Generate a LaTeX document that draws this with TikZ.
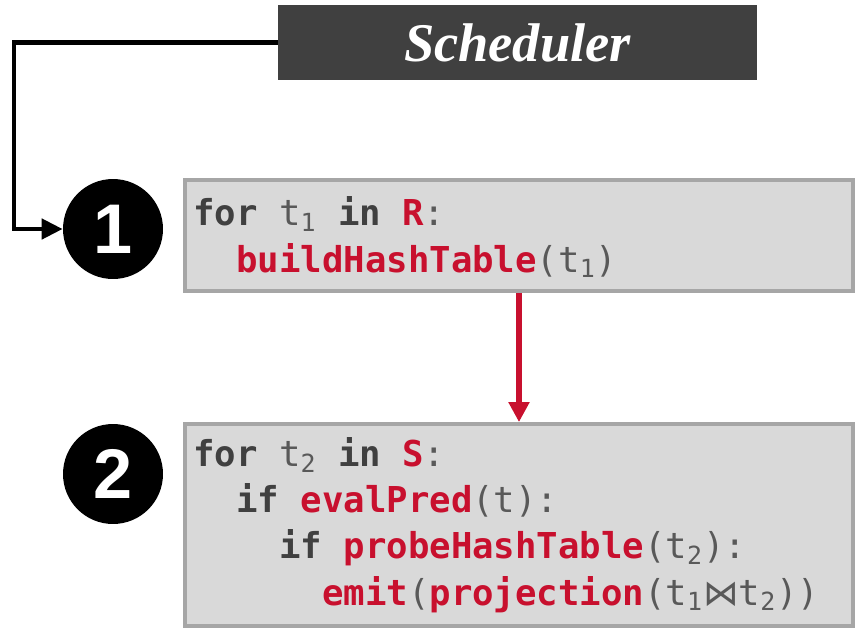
\documentclass[tikz,border=0pt]{standalone}
\usepackage{fontspec}
\usetikzlibrary{arrows.meta}
\newfontfamily\codefont{DejaVu Sans Mono}
\newfontfamily\symfont{DejaVu Sans}
\newfontfamily\titlefont{Liberation Serif}
\newfontfamily\numfont{Liberation Sans}
\definecolor{codered}{HTML}{C8102E}
\definecolor{codegray}{HTML}{595959}
\definecolor{boxgray}{HTML}{D9D9D9}
\definecolor{linegray}{HTML}{A6A6A6}
\definecolor{darkbar}{HTML}{404040}
\newcommand{\kw}[1]{\textbf{\color{darkbar}#1}}
\newcommand{\fn}[1]{\textbf{\color{codered}#1}}
\newcommand{\tsub}[1]{\textsubscript{#1}}
\newcommand{\ind}[1]{\hspace*{#1\fontcharwd\font`x}}
\tikzset{
  codebox/.style={draw=linegray, line width=2.2pt, fill=boxgray, inner sep=0pt,
    minimum width=13.36cm},
  codetext/.style={anchor=base west, align=left, inner sep=0pt, text=codegray,
    font=\codefont\fontsize{20.3}{26.3}\selectfont},
  stepnum/.style={circle, fill=black, minimum size=2cm, inner sep=0pt, text=white,
    font=\numfont\bfseries\fontsize{40}{40}\selectfont},
  schedbox/.style={fill=darkbar, minimum width=9.58cm, minimum height=1.5cm, inner sep=0pt,
    text=white, font=\titlefont\bfseries\itshape\fontsize{31}{31}\selectfont},
  schedline/.style={line width=2.6pt, -{Triangle[length=4.2mm, width=4mm]}},
  flowarrow/.style={draw=codered, line width=3.4pt, -{Triangle[length=4mm, width=4mm]}},
}

\begin{document}
\begin{tikzpicture}[x=0.02cm, y=-0.02cm]
  \useasboundingbox (0,0) rectangle (856,633);
  \node[schedbox] (sched) at (517.5,42.5) {Scheduler};
  \node[stepnum] (step1) at (113,229) {1};
  \node[stepnum] (step2) at (113,474) {2};
  \node[codebox, minimum height=2.22cm] (build) at (519,235.5) {};
  \node[codebox, minimum height=4.04cm] (probe) at (519,525) {};
  % multi-line nodes: base is the last line
  \node[codetext] (buildcode) at (193,272)
    {\kw{for} t\tsub{1} \kw{in} \fn{R}:\\
     \ind{2}\fn{buildHashTable}(t\tsub{1})};
  \node[codetext] (probecode) at (193,605)
    {\kw{for} t\tsub{2} \kw{in} \fn{S}:\\
     \ind{2}\kw{if} \fn{evalPred}(t):\\
     \ind{4}\kw{if} \fn{probeHashTable}(t\tsub{2}):\\
     \ind{6}\fn{emit}(\fn{projection}(t\tsub{1}{\symfont ⋈}t\tsub{2}))};
  \coordinate (turn) at (14,42.5);
  \draw[schedline] (sched.west) -- (turn) |- (step1.west);
  \draw[flowarrow] (build.south) -- (probe.north);
\end{tikzpicture}
\end{document}
